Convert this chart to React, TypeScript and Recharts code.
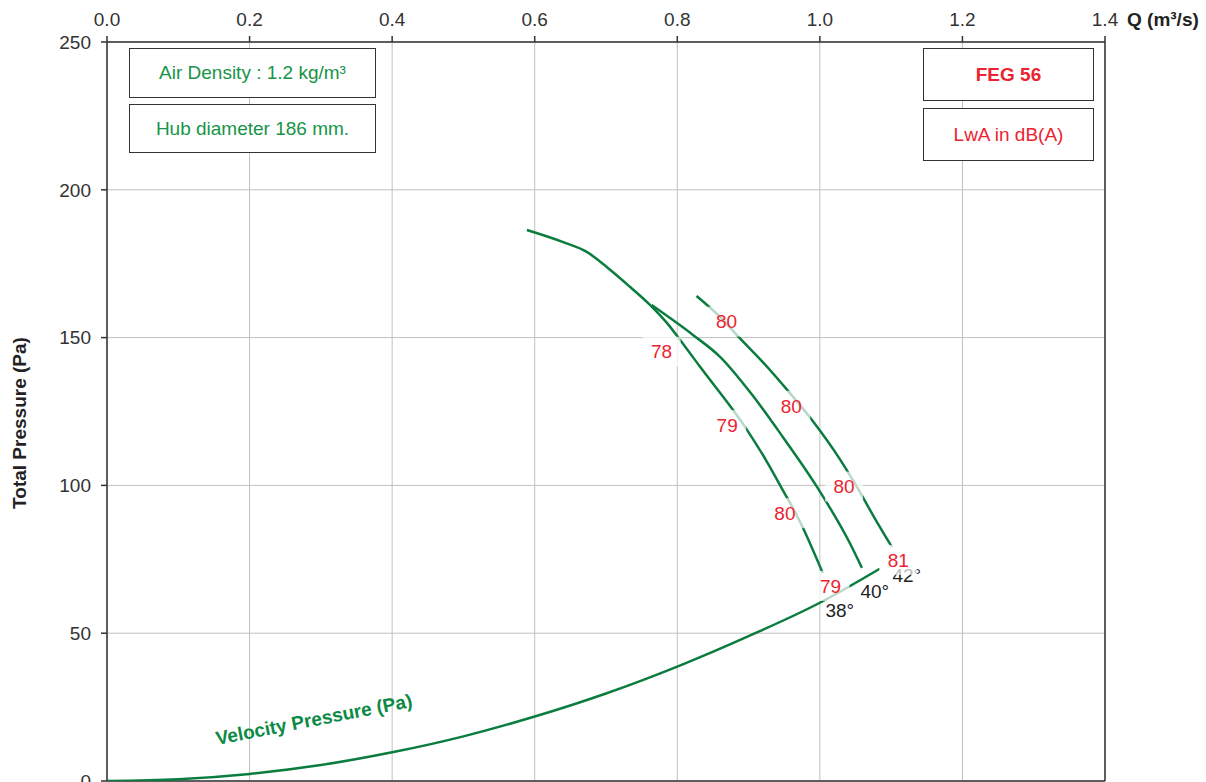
import { CartesianGrid, ComposedChart, Line, ReferenceLine, Scatter, XAxis, YAxis } from 'recharts';

const qTicks = [0, 0.2, 0.4, 0.6, 0.8, 1.0, 1.2, 1.4];
const pTicks = [0, 50, 100, 150, 200, 250];

// blade angle curves, Q (m³/s) vs total pressure (Pa)
const curve38 = [
  { q: 0.589, p: 186.4 },
  { q: 0.64, p: 182.3 },
  { q: 0.673, p: 179.0 },
  { q: 0.701, p: 173.9 },
  { q: 0.734, p: 167.1 },
  { q: 0.762, p: 161.0 },
  { q: 0.786, p: 154.8 },
  { q: 0.804, p: 149.2 },
  { q: 0.832, p: 140.1 },
  { q: 0.898, p: 118.7 },
  { q: 0.926, p: 107.9 },
  { q: 0.948, p: 98.4 },
  { q: 0.973, p: 87.3 },
  { q: 1.004, p: 70.4 },
];

const curve40 = [
  { q: 0.764, p: 161.0 },
  { q: 0.822, p: 150.9 },
  { q: 0.86, p: 143.5 },
  { q: 0.902, p: 131.6 },
  { q: 0.948, p: 116.4 },
  { q: 0.996, p: 99.5 },
  { q: 1.042, p: 80.5 },
  { q: 1.059, p: 72.1 },
];

const curve42 = [
  { q: 0.827, p: 164.1 },
  { q: 0.86, p: 157.0 },
  { q: 0.885, p: 150.5 },
  { q: 0.92, p: 141.7 },
  { q: 0.958, p: 131.2 },
  { q: 0.99, p: 121.8 },
  { q: 1.028, p: 108.9 },
  { q: 1.052, p: 99.5 },
  { q: 1.076, p: 89.3 },
  { q: 1.101, p: 79.2 },
];

const velocity = [
  { q: 0, p: 0 },
  { q: 0.1, p: 0.6 },
  { q: 0.2, p: 2.4 },
  { q: 0.3, p: 5.4 },
  { q: 0.4, p: 9.7 },
  { q: 0.5, p: 15.1 },
  { q: 0.6, p: 21.8 },
  { q: 0.7, p: 29.6 },
  { q: 0.8, p: 38.7 },
  { q: 0.9, p: 49.0 },
  { q: 1.0, p: 60.3 },
  { q: 1.084, p: 71.8 },
];

const angleLabels = [
  { q: 1.122, p: 69.7, text: '42°' },
  { q: 1.077, p: 64.3, text: '40°' },
  { q: 1.028, p: 57.8, text: '38°' },
];

const soundLabels = [
  { q: 0.869, p: 155.4, text: '80' },
  { q: 0.778, p: 145.2, text: '78' },
  { q: 0.96, p: 126.9, text: '80' },
  { q: 0.87, p: 120.4, text: '79' },
  { q: 1.034, p: 99.6, text: '80' },
  { q: 0.951, p: 90.6, text: '80' },
  { q: 1.11, p: 74.8, text: '81' },
  { q: 1.015, p: 66.0, text: '79' },
];

const FONT = '"Liberation Sans", Arial, sans-serif';
const LINE = '#0a7d3e';
const GREEN_TEXT = '#169447';
const RED = '#ec2330';

const AngleText = (props: any) => {
  const { cx, cy, payload } = props;
  return (
    <text x={cx} y={cy} dy="0.35em" textAnchor="middle" fontSize={19} fontFamily={FONT} fill="#222">
      {payload.text}
    </text>
  );
};

const SoundText = (props: any) => {
  const { cx, cy, payload } = props;
  return (
    <g>
      <rect x={cx - 19} y={cy - 15} width={38} height={30} fill="#fff" fillOpacity={0.7} />
      <text x={cx} y={cy} dy="0.35em" textAnchor="middle" fontSize={19} fontFamily={FONT} fill={RED}>
        {payload.text}
      </text>
    </g>
  );
};

const boxStyle: React.CSSProperties = {
  position: 'absolute',
  boxSizing: 'border-box',
  border: '1px solid #333',
  background: '#fff',
  display: 'flex',
  alignItems: 'center',
  justifyContent: 'center',
  fontFamily: FONT,
  fontSize: 19,
};

export default function App() {
  return (
    <div style={{ position: 'fixed', left: 0, top: 0, width: 1206, height: 782, overflow: 'hidden', background: '#fff' }}>
      <ComposedChart
        width={1206}
        height={800}
        margin={{ top: 12, right: 101, bottom: 19, left: 47 }}
        style={{ fontFamily: FONT }}
      >
        <CartesianGrid stroke="#c0c0c0" strokeWidth={1} />
        <XAxis
          xAxisId={0}
          dataKey="q"
          type="number"
          orientation="top"
          domain={[0, 1.4]}
          ticks={qTicks}
          tickFormatter={(v: number) => v.toFixed(1)}
          height={30}
          stroke="#333"
          strokeWidth={1.5}
          tick={{ fill: '#333', fontSize: 19 }}
          tickSize={6}
          tickMargin={10}
          allowDataOverflow
        />
        <YAxis
          yAxisId={0}
          type="number"
          domain={[0, 250]}
          ticks={pTicks}
          width={60}
          stroke="#333"
          strokeWidth={1.5}
          tick={{ fill: '#333', fontSize: 19 }}
          tickSize={6}
          tickMargin={10}
          allowDataOverflow
        />
        <ReferenceLine x={1.4} stroke="#333" strokeWidth={1.5} />
        <ReferenceLine y={0} stroke="#333" strokeWidth={1.5} />
        <Line data={velocity} dataKey="p" type="monotone" stroke={LINE} strokeWidth={2.5} dot={false} isAnimationActive={false} />
        <Line data={curve38} dataKey="p" type="monotone" stroke={LINE} strokeWidth={2.5} dot={false} isAnimationActive={false} />
        <Line data={curve40} dataKey="p" type="monotone" stroke={LINE} strokeWidth={2.5} dot={false} isAnimationActive={false} />
        <Line data={curve42} dataKey="p" type="monotone" stroke={LINE} strokeWidth={2.5} dot={false} isAnimationActive={false} />
        <Scatter data={angleLabels} dataKey="p" shape={AngleText} isAnimationActive={false} />
        <Scatter data={soundLabels} dataKey="p" shape={SoundText} isAnimationActive={false} />
      </ComposedChart>

      <div style={{ ...boxStyle, left: 129, top: 48, width: 247, height: 50, color: GREEN_TEXT }}>Air Density : 1.2 kg/m³</div>
      <div style={{ ...boxStyle, left: 129, top: 104, width: 247, height: 49, color: GREEN_TEXT }}>Hub diameter 186 mm.</div>
      <div style={{ ...boxStyle, left: 923, top: 48, width: 171, height: 53, color: RED, fontWeight: 700 }}>FEG 56</div>
      <div style={{ ...boxStyle, left: 923, top: 108, width: 171, height: 53, color: RED }}>LwA in dB(A)</div>

      <div
        style={{
          position: 'absolute',
          left: 1127,
          top: 8,
          fontFamily: FONT,
          fontSize: 19,
          fontWeight: 700,
          color: '#222',
          lineHeight: '24px',
          whiteSpace: 'nowrap',
        }}
      >
        Q (m³/s)
      </div>
      <div
        style={{
          position: 'absolute',
          left: 20,
          top: 423,
          transform: 'translate(-50%, -50%) rotate(-90deg)',
          fontFamily: FONT,
          fontSize: 19,
          fontWeight: 700,
          color: '#222',
          whiteSpace: 'nowrap',
        }}
      >
        Total Pressure (Pa)
      </div>
      <div
        style={{
          position: 'absolute',
          left: 314,
          top: 720,
          transform: 'translate(-50%, -50%) rotate(-11deg)',
          fontFamily: FONT,
          fontSize: 19,
          fontWeight: 700,
          color: '#0b8a45',
          whiteSpace: 'nowrap',
        }}
      >
        Velocity Pressure (Pa)
      </div>
    </div>
  );
}
